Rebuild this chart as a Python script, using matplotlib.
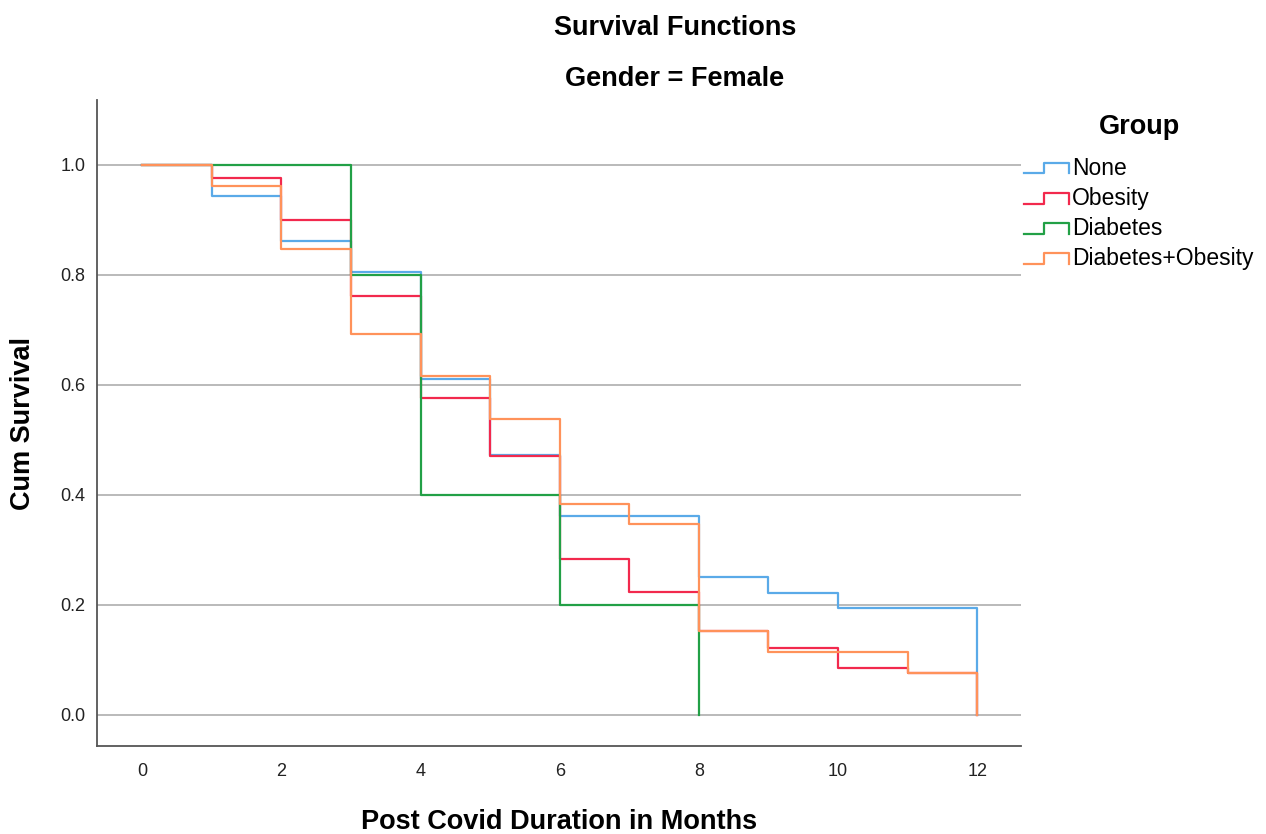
import numpy as np
import matplotlib
matplotlib.use("Agg")
import matplotlib.pyplot as plt
from matplotlib.legend_handler import HandlerBase
from matplotlib.lines import Line2D

plt.rcParams['font.family'] = ['Liberation Sans', 'DejaVu Sans']

# months and cumulative survival per group
months = [0, 1, 2, 3, 4, 5, 6, 7, 8, 9, 10, 11, 12]
surv_none = [1.0, 0.944, 0.861, 0.805, 0.610, 0.472, 0.362, 0.362, 0.250, 0.222, 0.194, 0.194, 0.0]
surv_obesity = [1.0, 0.977, 0.900, 0.762, 0.577, 0.470, 0.284, 0.224, 0.153, 0.122, 0.085, 0.077, 0.0]
months_diab = [0, 1, 2, 3, 4, 5, 6, 7, 8]
surv_diab = [1.0, 1.0, 1.0, 0.8, 0.4, 0.4, 0.2, 0.2, 0.0]
surv_diab_ob = [1.0, 0.961, 0.847, 0.693, 0.616, 0.538, 0.384, 0.347, 0.153, 0.115, 0.115, 0.077, 0.0]

groups = ["None", "Obesity", "Diabetes", "Diabetes+Obesity"]
colors = ["#5aaae8", "#f2294d", "#22a046", "#ff925a"]


class StepHandler(HandlerBase):
    # little step-shaped legend icon like SPSS draws
    def create_artists(self, legend, orig, xd, yd, width, height, fontsize, trans):
        x = np.array([0, 0.45, 0.45, 1.0, 1.0]) * width - xd
        y = np.array([0.05, 0.05, 0.8, 0.8, 0.05]) * height - yd
        ln = Line2D(x, y, color=orig.get_color(), lw=1.6, transform=trans)
        return [ln]


fig = plt.figure(figsize=(12.66, 8.34), dpi=100)
ax = fig.add_axes([97 / 1266, 1 - 746 / 834, (1021 - 97) / 1266, (746 - 100) / 834])

data = [(months, surv_none), (months, surv_obesity), (months_diab, surv_diab), (months, surv_diab_ob)]
handles = []
for (t, s), name, c in zip(data, groups, colors):
    h, = ax.step(t, s, where='post', color=c, lw=1.6, label=name)
    handles.append(h)

ax.set_xlim(-0.65, 12.63)
ax.set_ylim(-0.0565, 1.118)
ax.set_xticks([0, 2, 4, 6, 8, 10, 12])
ax.set_yticks([0.0, 0.2, 0.4, 0.6, 0.8, 1.0])
ax.set_yticklabels(["0.0", "0.2", "0.4", "0.6", "0.8", "1.0"])
ax.tick_params(length=0, labelsize=13, colors='#222222')
ax.tick_params(axis='y', pad=8.5)
ax.tick_params(axis='x', pad=12)
ax.yaxis.grid(True, color='#b4b4b4', lw=1.3)
ax.set_axisbelow(True)
for sp in ['top', 'right']:
    ax.spines[sp].set_visible(False)
for sp in ['left', 'bottom']:
    ax.spines[sp].set_color('#555555')
    ax.spines[sp].set_linewidth(1.3)

ax.set_xlabel("Post Covid Duration in Months", fontsize=19.5, fontweight='bold', labelpad=21)
ax.set_ylabel("Cum Survival", fontsize=19.5, fontweight='bold', labelpad=17)

fig.text(675 / 1266, 1 - 28 / 834, "Survival Functions", fontsize=19.5, fontweight='bold',
         ha='center', va='center')
fig.text(675 / 1266, 1 - 79 / 834, "Gender = Female", fontsize=19.5, fontweight='bold',
         ha='center', va='center')
fig.text(1140 / 1266, 1 - 127 / 834, "Group", fontsize=19.5, fontweight='bold',
         ha='center', va='center')

leg = fig.legend(handles, groups, handler_map={Line2D: StepHandler()},
                 loc='upper left', bbox_to_anchor=(1024 / 1266, 1 - 157 / 834),
                 frameon=False, fontsize=16.5,
                 handlelength=1.95, handleheight=0.6, handletextpad=0.15,
                 labelspacing=0.31, borderpad=0, borderaxespad=0)

fig.savefig("out.png", dpi=100)
